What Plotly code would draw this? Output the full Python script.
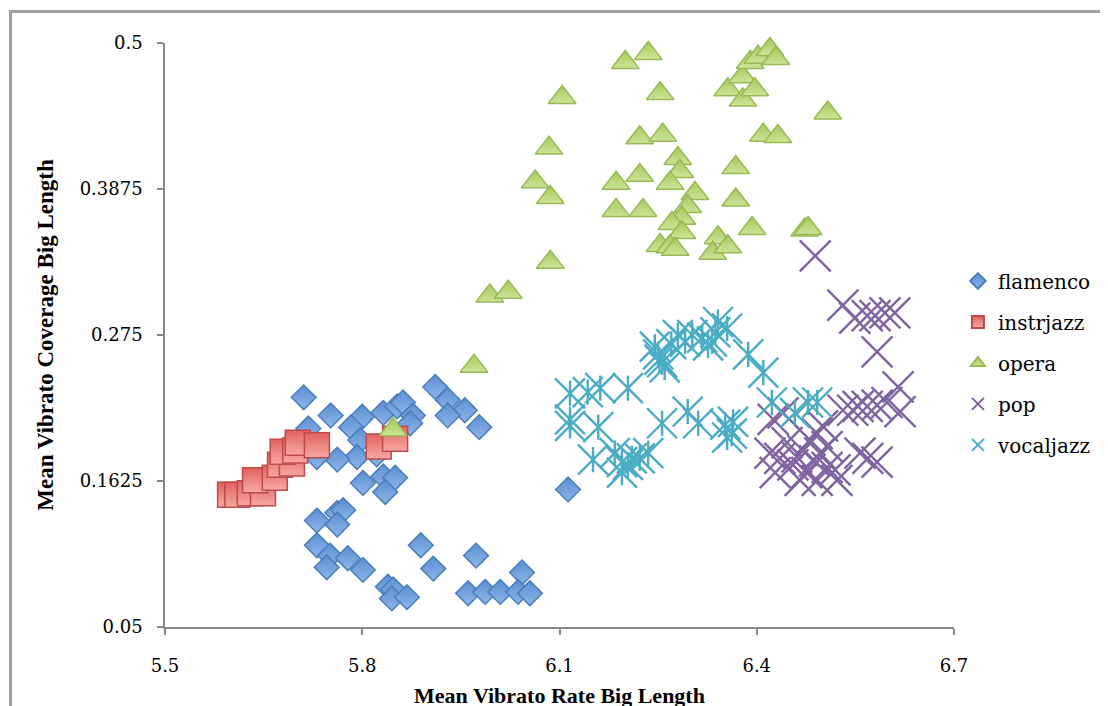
import plotly.graph_objects as go

# ---------------- data ----------------
flamenco_x = [5.711, 5.752, 5.718, 5.800, 5.783, 5.832, 5.853, 5.862, 5.877, 5.873,
              5.911, 5.930, 5.956, 5.930, 5.978, 5.797, 5.792, 5.762, 5.731, 5.822,
              5.801, 5.832, 5.850, 5.835, 5.731, 5.762, 5.771, 5.762, 5.731, 5.751,
              5.746, 5.778, 5.801, 5.889, 5.908, 5.973, 5.839, 5.847, 5.845, 5.868,
              5.961, 5.987, 6.010, 6.043, 6.037, 6.055, 6.113]
flamenco_y = [0.227, 0.213, 0.203, 0.212, 0.204, 0.215, 0.220, 0.223, 0.213, 0.207,
              0.235, 0.225, 0.217, 0.213, 0.204, 0.194, 0.181, 0.179, 0.181, 0.183,
              0.161, 0.166, 0.165, 0.154, 0.132, 0.138, 0.140, 0.129, 0.113, 0.105,
              0.096, 0.103, 0.094, 0.113, 0.095, 0.105, 0.081, 0.079, 0.072, 0.073,
              0.076, 0.077, 0.077, 0.092, 0.077, 0.076, 0.156]

instrjazz_x = [5.599, 5.610, 5.629, 5.649, 5.637, 5.667, 5.675, 5.693, 5.679, 5.698,
               5.702, 5.731, 5.825, 5.850]
instrjazz_y = [0.152, 0.152, 0.153, 0.153, 0.163, 0.165, 0.175, 0.176, 0.185, 0.186,
               0.192, 0.190, 0.189, 0.195]

opera_x = [6.104, 6.200, 6.235, 6.253, 6.084, 6.063, 6.086, 6.222, 6.257, 6.280,
           6.283, 6.268, 6.306, 6.186, 6.222, 6.186, 6.227, 6.295, 6.286, 6.271,
           6.286, 6.253, 6.268, 6.276, 6.341, 6.333, 6.356, 6.393, 6.368, 6.368,
           6.410, 6.432, 6.508, 6.086, 6.473, 6.478, 6.356, 6.378, 6.379, 6.397,
           6.390, 6.402, 6.420, 6.429, 5.994, 6.022, 5.970, 5.847]
opera_y = [0.458, 0.485, 0.492, 0.461, 0.419, 0.393, 0.381, 0.427, 0.429, 0.411,
           0.401, 0.392, 0.384, 0.392, 0.398, 0.371, 0.371, 0.374, 0.365, 0.361,
           0.354, 0.344, 0.343, 0.341, 0.350, 0.338, 0.343, 0.357, 0.404, 0.379,
           0.429, 0.428, 0.446, 0.331, 0.356, 0.357, 0.464, 0.474, 0.456, 0.464,
           0.485, 0.489, 0.495, 0.488, 0.305, 0.308, 0.251, 0.202]

pop_x = [6.489, 6.531, 6.549, 6.568, 6.580, 6.595, 6.610, 6.583, 6.615, 6.618,
         6.531, 6.546, 6.554, 6.568, 6.583, 6.598, 6.557, 6.569, 6.583, 6.425,
         6.440, 6.420, 6.428, 6.446, 6.461, 6.476, 6.481, 6.492, 6.496, 6.507,
         6.519, 6.522, 6.466, 6.492, 6.507, 6.455, 6.470, 6.435, 6.488, 6.500]
pop_y = [0.336, 0.298, 0.288, 0.290, 0.290, 0.292, 0.292, 0.262, 0.235, 0.216,
         0.217, 0.217, 0.220, 0.220, 0.221, 0.223, 0.184, 0.180, 0.177, 0.210,
         0.215, 0.184, 0.169, 0.192, 0.181, 0.169, 0.194, 0.199, 0.184, 0.173,
         0.171, 0.163, 0.163, 0.163, 0.189, 0.175, 0.186, 0.180, 0.178, 0.205]

vocaljazz_x = [6.116, 6.116, 6.116, 6.143, 6.162, 6.204, 6.159, 6.151, 6.184, 6.195,
               6.195, 6.210, 6.204, 6.222, 6.235, 6.245, 6.256, 6.250, 6.260, 6.252,
               6.291, 6.302, 6.317, 6.326, 6.332, 6.337, 6.341, 6.355, 6.387, 6.410,
               6.256, 6.295, 6.311, 6.352, 6.364, 6.362, 6.355, 6.423, 6.458, 6.478,
               6.492, 6.280, 6.270]
vocaljazz_y = [0.230, 0.210, 0.205, 0.231, 0.234, 0.234, 0.204, 0.179, 0.184, 0.177,
               0.169, 0.180, 0.175, 0.180, 0.184, 0.266, 0.254, 0.260, 0.250, 0.256,
               0.270, 0.275, 0.273, 0.267, 0.270, 0.277, 0.285, 0.280, 0.260, 0.246,
               0.207, 0.216, 0.207, 0.206, 0.208, 0.199, 0.196, 0.223, 0.215, 0.223,
               0.223, 0.275, 0.268]

x_ticks = [5.5, 5.8, 6.1, 6.4, 6.7]
x_ticktext = ["5.5", "5.8", "6.1", "6.4", "6.7"]
y_ticks = [0.05, 0.1625, 0.275, 0.3875, 0.5]
y_ticktext = ["0.05", "0.1625", "0.275", "0.3875", "0.5"]

x_title = "Mean Vibrato Rate Big Length"
y_title = "Mean Vibrato Coverage Big Length"

# ---------------- figure ----------------
fig = go.Figure()

fig.add_trace(go.Scatter(
    x=flamenco_x, y=flamenco_y, mode="markers", name="flamenco", legendgroup="a",
    cliponaxis=False,
    marker=dict(symbol="diamond", size=19, color="#5b8fd3",
                gradient=dict(type="vertical", color="#8db5e8"),
                line=dict(color="#4a7ebb", width=1.5))))

fig.add_trace(go.Scatter(
    x=instrjazz_x, y=instrjazz_y, mode="markers", name="instrjazz", legendgroup="b",
    cliponaxis=False,
    marker=dict(symbol="square", size=25, color="#e2625e",
                gradient=dict(type="vertical", color="#f7a9a6"),
                line=dict(color="#be4b48", width=1.5))))

fig.add_trace(go.Scatter(
    x=opera_x, y=opera_y, mode="markers", name="opera", legendgroup="c",
    cliponaxis=False,
    marker=dict(symbol="triangle-up", size=24, color="#a4c95c",
                gradient=dict(type="vertical", color="#cbe596"),
                line=dict(color="#98b954", width=1.5))))

fig.add_trace(go.Scatter(
    x=pop_x, y=pop_y, mode="markers", name="pop", legendgroup="d",
    cliponaxis=False,
    marker=dict(symbol="x-thin-open", size=31, color="#8064a2",
                line=dict(color="#8064a2", width=2.4))))

fig.add_trace(go.Scatter(
    x=vocaljazz_x, y=vocaljazz_y, mode="markers", name="vocaljazz", legendgroup="e",
    cliponaxis=False,
    marker=dict(symbol="x-thin-open", size=30, color="#4bacc6",
                line=dict(color="#4bacc6", width=2.4))))
fig.add_trace(go.Scatter(
    x=vocaljazz_x, y=vocaljazz_y, mode="markers", name="vocaljazz", legendgroup="e",
    showlegend=False, cliponaxis=False, hoverinfo="skip",
    marker=dict(symbol="line-ns-open", size=18, color="#4bacc6",
                line=dict(color="#4bacc6", width=2.4))))

axis_col = "#8a8a8a"
tick_font = dict(family="DejaVu Serif", size=18, color="#000000")

fig.update_layout(
    width=1108, height=706,
    margin=dict(l=157, r=162, t=35, b=87, autoexpand=False),
    paper_bgcolor="white", plot_bgcolor="white",
    showlegend=True,
    legend=dict(x=1.005, y=0.626, xanchor="left", yanchor="top",
                font=dict(family="DejaVu Serif", size=20, color="#000000"),
                tracegroupgap=12, itemsizing="constant",
                bgcolor="rgba(0,0,0,0)"),
    xaxis=dict(range=[5.5, 6.7], tickmode="array", tickvals=x_ticks, ticktext=x_ticktext,
               automargin=False,
               showgrid=False, zeroline=False, showline=True, linecolor=axis_col, linewidth=1.5,
               ticks="outside", ticklen=6, tickcolor=axis_col, tickwidth=1.5,
               tickfont=tick_font, ticklabelstandoff=16,
               title=dict(text="<b>" + x_title + "</b>",
                          font=dict(family="Liberation Serif", size=22, color="#000000"),
                          standoff=12)),
    yaxis=dict(range=[0.05, 0.5], tickmode="array", tickvals=y_ticks, ticktext=y_ticktext,
               automargin=False,
               showgrid=False, zeroline=False, showline=True, linecolor=axis_col, linewidth=1.5,
               ticks="outside", ticklen=6, tickcolor=axis_col, tickwidth=1.5,
               tickfont=tick_font, ticklabelstandoff=11,
               title=dict(text="<b>" + y_title + "</b>",
                          font=dict(family="Liberation Serif", size=23, color="#000000"),
                          standoff=20)),
    shapes=[dict(type="rect", xref="paper", yref="paper",
                 x0=-0.1958, x1=1.25, y0=-0.25, y1=1.054,
                 line=dict(color="#a0a0a0", width=3), fillcolor="rgba(0,0,0,0)",
                 layer="below")],
)

fig.write_html("out.html")
